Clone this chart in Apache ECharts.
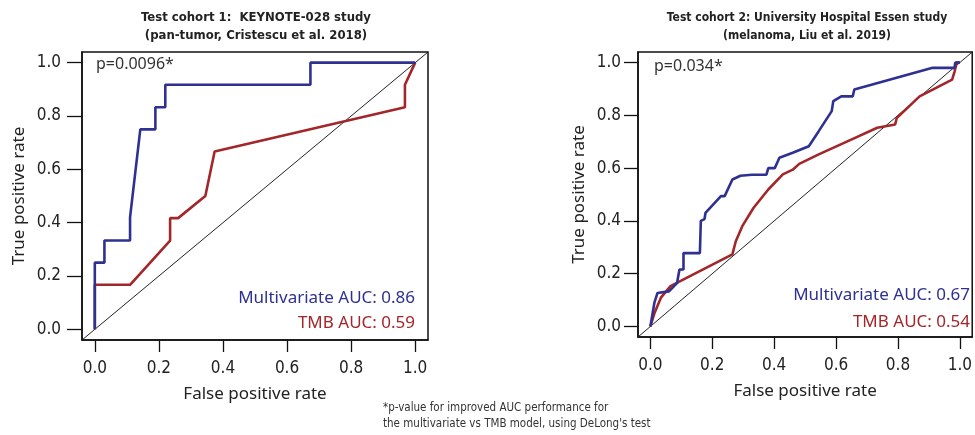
<!DOCTYPE html>
<html>
<head>
<meta charset="utf-8">
<script src="https://cdn.jsdelivr.net/npm/echarts@6/dist/echarts.min.js"></script>
<style>
  html, body { margin: 0; padding: 0; background: #fff; }
  #main { width: 975px; height: 435px; }
</style>
</head>
<body>
<div id="main"></div>
<script>
// tick positions shared by both panels
var tickValues = [0, 0.2, 0.4, 0.6, 0.8, 1.0];

// cohort 1: KEYNOTE-028
var c1MultiFpr = [0, 0, 0.03, 0.03, 0.11, 0.11, 0.142, 0.189, 0.189, 0.22, 0.22, 0.673, 0.673, 1.0];
var c1MultiTpr = [0, 0.25, 0.25, 0.333, 0.333, 0.42, 0.75, 0.75, 0.833, 0.833, 0.917, 0.917, 1.0, 1.0];
var c1TmbFpr = [0, 0, 0.11, 0.235, 0.235, 0.26, 0.345, 0.374, 0.968, 0.968, 1.0];
var c1TmbTpr = [0, 0.167, 0.167, 0.333, 0.417, 0.417, 0.5, 0.667, 0.833, 0.917, 1.0];

// cohort 2: University Hospital Essen
var c2MultiFpr = [0, 0.013, 0.023, 0.06, 0.086, 0.094, 0.107, 0.107, 0.16, 0.163, 0.175, 0.178, 0.228, 0.24, 0.265, 0.291, 0.328, 0.375, 0.381, 0.402, 0.417, 0.46, 0.512, 0.544, 0.586, 0.591, 0.617, 0.654, 0.659, 0.912, 0.983, 0.985, 1.0];
var c2MultiTpr = [0, 0.09, 0.127, 0.133, 0.164, 0.216, 0.216, 0.278, 0.278, 0.40, 0.407, 0.43, 0.494, 0.494, 0.557, 0.571, 0.575, 0.575, 0.60, 0.60, 0.639, 0.658, 0.683, 0.74, 0.816, 0.854, 0.872, 0.872, 0.898, 0.98, 0.98, 1.0, 1.0];
var c2TmbFpr = [0, 0.013, 0.034, 0.065, 0.265, 0.276, 0.297, 0.333, 0.381, 0.428, 0.46, 0.481, 0.544, 0.649, 0.733, 0.791, 0.796, 0.87, 0.975, 0.983, 0.99, 1.0];
var c2TmbTpr = [0, 0.05, 0.109, 0.153, 0.273, 0.323, 0.38, 0.449, 0.519, 0.576, 0.594, 0.616, 0.652, 0.708, 0.753, 0.765, 0.79, 0.872, 0.935, 0.966, 1.0, 1.0];

var chanceLine = [-0.04, 1.04];

var blue = '#2e3192';
var red = '#a3262a';
var font = '"Noto Sans", sans-serif';
var narrow = '"Liberation Sans Narrow", "DejaVu Sans Condensed", "Noto Sans", sans-serif';

function pairs(xs, ys) {
  return xs.map(function (x, i) { return [x, ys[i]]; });
}

function makeX(idx, margin) {
  return {
    type: 'value', gridIndex: idx, min: -0.04, max: 1.04,
    name: 'False positive rate', nameLocation: 'middle', nameGap: 46,
    nameTextStyle: { fontFamily: font, fontSize: 17, color: '#222' },
    axisLine: { show: true, onZero: false, lineStyle: { color: '#111', width: 1.5 } },
    splitLine: { show: false },
    axisTick: { show: true, length: 12, customValues: tickValues, lineStyle: { color: '#111', width: 1.3 } },
    axisLabel: {
      customValues: tickValues, margin: margin, fontFamily: narrow, fontSize: 17, color: '#222',
      formatter: function (v) { return v.toFixed(1); }
    }
  };
}

function makeY(idx, gap, margin, tick) {
  return {
    type: 'value', gridIndex: idx, min: -0.04, max: 1.04,
    name: 'True positive rate', nameLocation: 'middle', nameGap: gap,
    nameTextStyle: { fontFamily: font, fontSize: 17, color: '#222' },
    axisLine: { show: true, onZero: false, lineStyle: { color: '#111', width: 1.5 } },
    splitLine: { show: false },
    axisTick: { show: true, length: tick, customValues: tickValues, lineStyle: { color: '#111', width: 1.3 } },
    axisLabel: {
      customValues: tickValues, margin: margin, fontFamily: narrow, fontSize: 17, color: '#222',
      formatter: function (v) { return v.toFixed(1); }
    }
  };
}

function curve(idx, xs, ys, color) {
  return {
    type: 'line', xAxisIndex: idx, yAxisIndex: idx, data: pairs(xs, ys),
    showSymbol: false, silent: true,
    lineStyle: { color: color, width: 2.6 }
  };
}

function chance(idx) {
  return {
    type: 'line', xAxisIndex: idx, yAxisIndex: idx, data: pairs(chanceLine, chanceLine),
    showSymbol: false, silent: true, z: 1,
    lineStyle: { color: '#222', width: 1 }
  };
}

function label(x, y, s, color, size, family, align, weight) {
  return {
    type: 'text', x: x, y: y,
    style: {
      text: s, fontFamily: family || font, fontSize: size, fontWeight: weight || 'normal',
      fill: color, align: align || 'left', verticalAlign: 'middle'
    }
  };
}

var chart = echarts.init(document.getElementById('main'));
chart.setOption({
  animation: false,
  grid: [
    { left: 82, top: 52, width: 346, height: 288, show: true, borderColor: '#111', borderWidth: 1.5, backgroundColor: 'transparent' },
    { left: 638, top: 52, width: 342, height: 285, show: true, borderColor: '#111', borderWidth: 1.5, backgroundColor: 'transparent' }
  ],
  xAxis: [makeX(0, 20), makeX(1, 20)],
  yAxis: [makeY(0, 54, 21, 15), makeY(1, 50, 17, 14)],
  series: [
    chance(0),
    curve(0, c1TmbFpr, c1TmbTpr, red),
    curve(0, c1MultiFpr, c1MultiTpr, blue),
    chance(1),
    curve(1, c2TmbFpr, c2TmbTpr, red),
    curve(1, c2MultiFpr, c2MultiTpr, blue)
  ],
  graphic: [
    label(256, 18, 'Test cohort 1:  KEYNOTE-028 study', '#222', 13, narrow, 'center', 'bold'),
    label(256, 36, '(pan-tumor, Cristescu et al. 2018)', '#222', 13, narrow, 'center', 'bold'),
    label(807, 18, 'Test cohort 2: University Hospital Essen study', '#222', 12, narrow, 'center', 'bold'),
    label(807, 36, '(melanoma, Liu et al. 2019)', '#222', 12, narrow, 'center', 'bold'),
    label(96, 64, 'p=0.0096*', '#333', 16),
    label(654, 66, 'p=0.034*', '#333', 16),
    label(415, 298, 'Multivariate AUC: 0.86', blue, 17, font, 'right'),
    label(415, 323, 'TMB AUC: 0.59', red, 17, font, 'right'),
    label(970, 295, 'Multivariate AUC: 0.67', blue, 17, font, 'right'),
    label(970, 322, 'TMB AUC: 0.54', red, 17, font, 'right'),
    label(383, 408, '*p-value for improved AUC performance for', '#333', 11.5, narrow),
    label(383, 424, "the multivariate vs TMB model, using DeLong's test", '#333', 11.5, narrow)
  ]
});
</script>
</body>
</html>
